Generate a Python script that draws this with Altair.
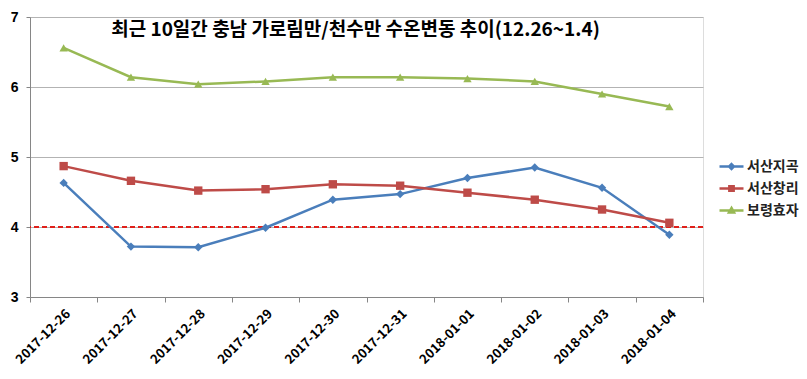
import altair as alt
import pandas as pd

dates = ["2017-12-26", "2017-12-27", "2017-12-28", "2017-12-29", "2017-12-30",
         "2017-12-31", "2018-01-01", "2018-01-02", "2018-01-03", "2018-01-04"]
series = ["서산지곡", "서산창리", "보령효자"]
jigok = [4.63, 3.72, 3.71, 3.99, 4.39, 4.47, 4.70, 4.85, 4.56, 3.89]
changri = [4.87, 4.66, 4.52, 4.54, 4.61, 4.59, 4.49, 4.39, 4.25, 4.06]
hyoja = [6.56, 6.14, 6.04, 6.08, 6.14, 6.14, 6.12, 6.08, 5.90, 5.72]
threshold = [4]
y_ticks = [3, 4, 5, 6, 7]
title_text = "최근 10일간 충남 가로림만/천수만 수온변동 추이(12.26~1.4)"

colors = ["#4a7ebb", "#be4b48", "#98b954"]
marker_shapes = ["diamond", "square", "triangle-up"]
legend_shapes = [
    "M-1,0H1M0,-0.2L0.2,0L0,0.2L-0.2,0Z",
    "M-1,0H1M-0.18,-0.18H0.18V0.18H-0.18Z",
    "M-1,0H1M0,-0.21L0.21,0.16H-0.21Z",
]
FONT = "Noto Sans CJK KR"

rows = []
for name, vals in zip(series, [jigok, changri, hyoja]):
    for d, v in zip(dates, vals):
        rows.append({"date": d, "series": name, "value": v})
df = pd.DataFrame(rows)
thr_df = pd.DataFrame({"t": threshold})

x_enc = alt.X(
    "date:O",
    bandPosition=0.5,
    scale=alt.Scale(type="band", paddingInner=0, paddingOuter=0),
    axis=alt.Axis(
        title=None, labelAngle=-45, tickBand="extent", labelFont=FONT,
        labelFontSize=13, labelFontWeight="bold", labelColor="#000000",
        domainColor="#868686", tickColor="#868686", tickSize=5, labelPadding=5,
    ),
)
y_enc = alt.Y(
    "value:Q",
    scale=alt.Scale(domain=[3, 7], nice=False, zero=False),
    axis=alt.Axis(
        title=None, values=y_ticks, format="d", grid=True, gridColor="#b3b3b3",
        labelFont="Liberation Sans", labelFontSize=14, labelFontWeight="bold",
        labelColor="#000000", domainColor="#868686", tickColor="#868686",
        tickSize=4, labelPadding=8,
    ),
)

def cscale():
    return alt.Scale(domain=series, range=colors)

lines = alt.Chart(df).mark_line(strokeWidth=2.5).encode(
    x=x_enc, y=y_enc,
    color=alt.Color("series:N", scale=cscale(), legend=None),
    detail="series:N",
)
points = alt.Chart(df).mark_point(filled=True, opacity=1).encode(
    x=x_enc, y=y_enc,
    color=alt.Color("series:N", scale=cscale(), legend=None),
    shape=alt.Shape("series:N", scale=alt.Scale(domain=series, range=marker_shapes), legend=None),
    size=alt.value(70),
)
legend = alt.Legend(
    title=None, orient="none", legendX=688, legendY=136,
    labelFont=FONT, labelFontSize=14, labelFontWeight="bold", labelColor="#222222",
    symbolSize=576, symbolStrokeWidth=2.5, symbolOpacity=1, rowPadding=1, labelOffset=2,
)
legend_layer = alt.Chart(df).mark_point(filled=True, opacity=0).encode(
    x=x_enc, y=y_enc,
    fill=alt.Fill("series:N", scale=cscale(), legend=legend),
    stroke=alt.Stroke("series:N", scale=cscale(), legend=legend),
    shape=alt.Shape("series:N", scale=alt.Scale(domain=series, range=legend_shapes), legend=legend),
)
rule = alt.Chart(thr_df).mark_rule(color="#e0201a", strokeWidth=2, strokeDash=[5, 3]).encode(
    y=alt.Y("t:Q", scale=alt.Scale(domain=[3, 7], nice=False, zero=False))
)

chart = alt.layer(rule, lines, points, legend_layer).resolve_scale(
    color="independent", shape="independent", fill="independent", stroke="independent"
).properties(
    width=673, height=280,
    autosize=alt.AutoSizeParams(type="none"),
    padding={"left": 22, "top": 9, "right": 96, "bottom": 74},
    title=alt.TitleParams(
        text=title_text, font=FONT, fontSize=19, fontWeight="bold",
        color="#000000", anchor="middle", frame="group", offset=-30, dx=-11,
    ),
).configure_view(stroke=None).configure(background="#ffffff")

chart.save("out.html", embed_options={"renderer": "svg", "actions": False})
